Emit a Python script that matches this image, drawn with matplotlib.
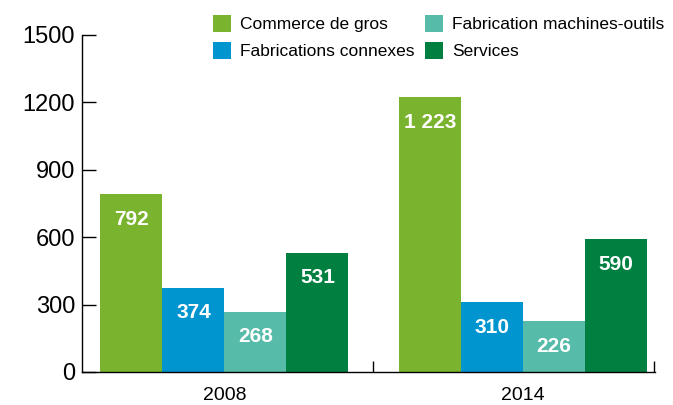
import matplotlib
matplotlib.use("Agg")
import matplotlib.pyplot as plt
import numpy as np
from matplotlib.patches import Patch

plt.rcParams['font.family'] = ['Liberation Sans', 'DejaVu Sans']

years = ["2008", "2014"]
series = ["Commerce de gros", "Fabrications connexes",
          "Fabrication machines-outils", "Services"]
values = {
    "Commerce de gros": [792, 1223],
    "Fabrications connexes": [374, 310],
    "Fabrication machines-outils": [268, 226],
    "Services": [531, 590],
}
colors = ["#7ab32e", "#0095cf", "#56bba9", "#008040"]
yticks = [0, 300, 600, 900, 1200, 1500]


def fmt(v):
    return f"{v:,}".replace(",", " ")


fig = plt.figure(figsize=(6.73, 4.05), dpi=100)
ax = fig.add_axes([0.1218, 0.0815, 0.8515, 0.8321])

x = np.arange(len(years))
width = 0.2077
for i, (name, col) in enumerate(zip(series, colors)):
    offs = (i - 1.5) * width
    bars = ax.bar(x + offs, values[name], width, color=col, linewidth=0)
    for b, v in zip(bars, values[name]):
        ax.annotate(fmt(v), (b.get_x() + b.get_width() / 2, v),
                    xytext=(0, -18), textcoords="offset points",
                    ha="center", va="center", color="white",
                    fontsize=15, fontweight="bold")

ax.set_ylim(0, 1500)
ax.set_xlim(-0.477, 1.442)
ax.set_yticks(yticks)
ax.set_yticklabels([str(t) for t in yticks], fontsize=17)
ax.tick_params(axis="y", direction="in", length=10, width=1, pad=5)

ax.set_xticks([0.497, 1.44])
ax.set_xticklabels([])
ax.tick_params(axis="x", direction="in", length=8, width=1)
for xi, lab in zip(x, years):
    ax.text(xi, -0.07, lab, transform=ax.get_xaxis_transform(),
            ha="center", va="center", fontsize=14)

for s in ["top", "right"]:
    ax.spines[s].set_visible(False)
ax.spines["left"].set_linewidth(1)
ax.spines["bottom"].set_linewidth(1)

handles = [Patch(facecolor=c, edgecolor="none") for c in colors]
fig.legend(handles, series, loc="upper left",
           bbox_to_anchor=(0.2946, 1.0), ncol=2, frameon=False,
           fontsize=12.5, handlelength=1.05, handleheight=1.15,
           handletextpad=0.5, columnspacing=0.6, labelspacing=0.55,
           borderaxespad=0.45)

fig.savefig("out.png", dpi=100)
